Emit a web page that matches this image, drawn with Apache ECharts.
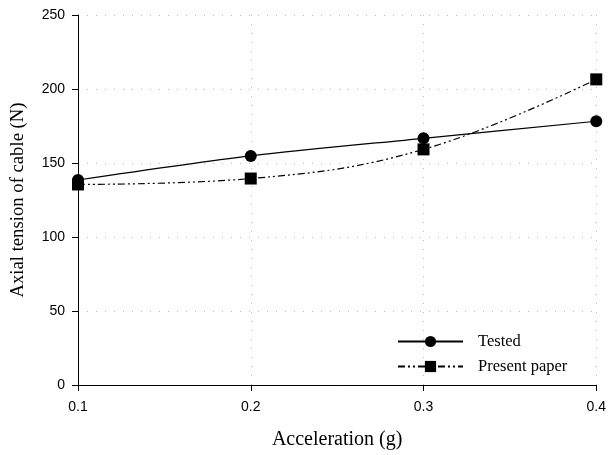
<!DOCTYPE html>
<html><head><meta charset="utf-8">
<script src="https://cdn.jsdelivr.net/npm/echarts@6/dist/echarts.min.js"></script>
<style>html,body{margin:0;padding:0;background:#fff}#c{width:609px;height:455px}</style>
</head><body><div id="c"></div>
<script>
const accel = [0.1, 0.2, 0.3, 0.4];
const tested = [138.5, 154.8, 166.7, 178.2];
const presentPaper = [135.5, 139.5, 159.2, 206.5];
const yTicks = [0, 50, 100, 150, 200, 250];

const chart = echarts.init(document.getElementById('c'));
const serif = '"Liberation Serif", "Times New Roman", serif';
const sans = '"Liberation Sans", Arial, sans-serif';
chart.setOption({
  animation: false,
  grid: {left: 78, right: 10, top: 15, bottom: 64},
  legend: {
    left: 397, top: 333, padding: 0, orient: 'vertical', itemWidth: 65, itemHeight: 14, itemGap: 8,
    textStyle: {fontFamily: serif, fontSize: 16.5, color: '#000', padding: [0, 0, 0, 10]},
    data: ['Tested', 'Present paper']
  },
  xAxis: {
    type: 'value', min: 0.1, max: 0.4, interval: 0.1,
    name: 'Acceleration (g)', nameLocation: 'middle', nameGap: 45,
    nameTextStyle: {fontFamily: serif, fontSize: 20, color: '#000'},
    axisLine: {lineStyle: {color: '#000', width: 1}},
    axisTick: {show: true, length: 6, lineStyle: {color: '#000'}},
    axisLabel: {fontFamily: sans, fontSize: 14, color: '#000', margin: 15, formatter: v => v.toFixed(1)},
    splitLine: {show: true, lineStyle: {color: '#bbb', type: [1, 8], width: 1}}
  },
  yAxis: {
    type: 'value', min: 0, max: 250, interval: 50,
    name: 'Axial tension of cable (N)', nameLocation: 'middle', nameGap: 50,
    nameTextStyle: {fontFamily: serif, fontSize: 18.7, color: '#000'},
    axisLine: {show: true, lineStyle: {color: '#000', width: 1}},
    axisTick: {show: true, length: 6, lineStyle: {color: '#000'}},
    axisLabel: {fontFamily: sans, fontSize: 14, color: '#000', margin: 13},
    splitLine: {show: true, lineStyle: {color: '#bbb', type: [1, 8], width: 1}}
  },
  series: [
    {
      name: 'Tested', type: 'line', smooth: 0.3,
      data: accel.map((x, i) => [x, tested[i]]),
      symbol: 'circle', symbolSize: 12,
      itemStyle: {color: '#000'},
      lineStyle: {color: '#000', width: 1.2}
    },
    {
      name: 'Present paper', type: 'line', smooth: 0.4,
      data: accel.map((x, i) => [x, presentPaper[i]]),
      symbol: 'rect', symbolSize: 12,
      itemStyle: {color: '#000'},
      lineStyle: {color: '#000', width: 1.2, type: [7, 3, 2, 3, 2, 3]}
    }
  ]
});
</script></body></html>
